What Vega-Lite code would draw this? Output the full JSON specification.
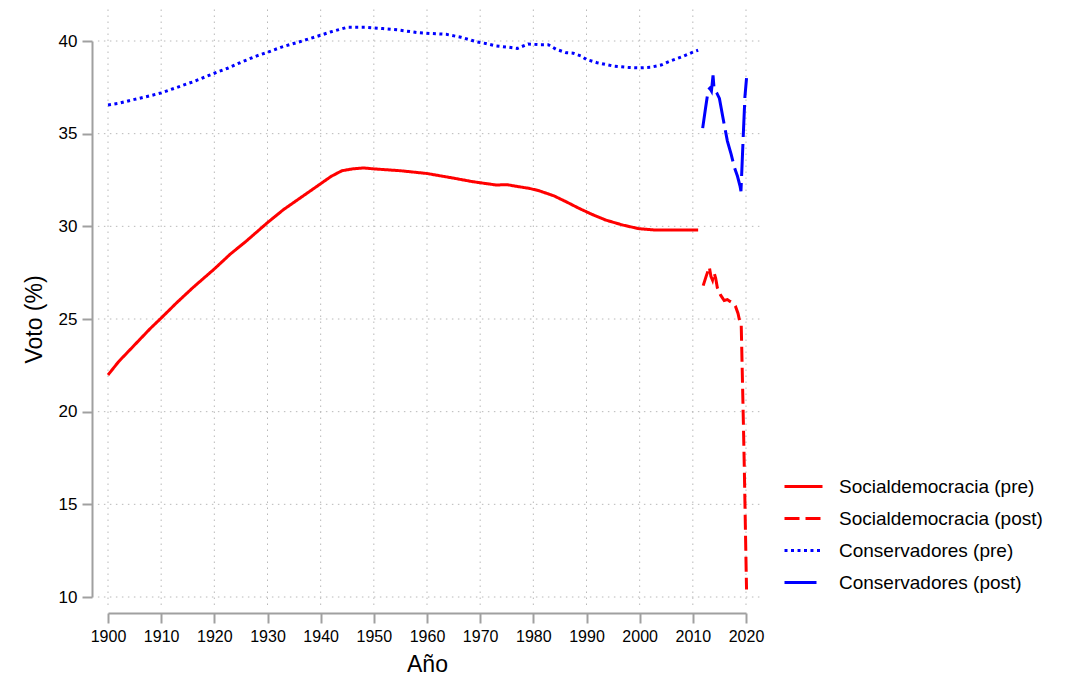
{
  "$schema": "https://vega.github.io/schema/vega-lite/v6.json",
  "width": 638,
  "height": 556,
  "autosize": {"type": "none"},
  "padding": {"left": 108, "top": 41, "right": 335, "bottom": 84},
  "background": "white",
  "config": {
    "view": {"stroke": null},
    "font": "Liberation Sans",
    "legend": {
      "orient": "none",
      "legendX": 675,
      "legendY": 425,
      "symbolType": "stroke",
      "symbolSize": 1444,
      "symbolStrokeWidth": 3,
      "labelFontSize": 19,
      "labelColor": "black",
      "labelOffset": 15,
      "rowPadding": 1,
      "labelLimit": 400
    }
  },
  "datasets": {
    "series": [
      {"year": 1900, "value": 21.98, "series": "Socialdemocracia (pre)"},
      {"year": 1902, "value": 22.7, "series": "Socialdemocracia (pre)"},
      {"year": 1904, "value": 23.3, "series": "Socialdemocracia (pre)"},
      {"year": 1906, "value": 23.9, "series": "Socialdemocracia (pre)"},
      {"year": 1908, "value": 24.5, "series": "Socialdemocracia (pre)"},
      {"year": 1910, "value": 25.05, "series": "Socialdemocracia (pre)"},
      {"year": 1913, "value": 25.9, "series": "Socialdemocracia (pre)"},
      {"year": 1916, "value": 26.7, "series": "Socialdemocracia (pre)"},
      {"year": 1920, "value": 27.7, "series": "Socialdemocracia (pre)"},
      {"year": 1923, "value": 28.5, "series": "Socialdemocracia (pre)"},
      {"year": 1926, "value": 29.2, "series": "Socialdemocracia (pre)"},
      {"year": 1930, "value": 30.2, "series": "Socialdemocracia (pre)"},
      {"year": 1933, "value": 30.9, "series": "Socialdemocracia (pre)"},
      {"year": 1936, "value": 31.5, "series": "Socialdemocracia (pre)"},
      {"year": 1940, "value": 32.3, "series": "Socialdemocracia (pre)"},
      {"year": 1942, "value": 32.7, "series": "Socialdemocracia (pre)"},
      {"year": 1944, "value": 33.0, "series": "Socialdemocracia (pre)"},
      {"year": 1946, "value": 33.1, "series": "Socialdemocracia (pre)"},
      {"year": 1948, "value": 33.15, "series": "Socialdemocracia (pre)"},
      {"year": 1950, "value": 33.1, "series": "Socialdemocracia (pre)"},
      {"year": 1955, "value": 33.0, "series": "Socialdemocracia (pre)"},
      {"year": 1960, "value": 32.85, "series": "Socialdemocracia (pre)"},
      {"year": 1965, "value": 32.6, "series": "Socialdemocracia (pre)"},
      {"year": 1968.6, "value": 32.41, "series": "Socialdemocracia (pre)"},
      {"year": 1973, "value": 32.23, "series": "Socialdemocracia (pre)"},
      {"year": 1975, "value": 32.25, "series": "Socialdemocracia (pre)"},
      {"year": 1977, "value": 32.15, "series": "Socialdemocracia (pre)"},
      {"year": 1979.2, "value": 32.05, "series": "Socialdemocracia (pre)"},
      {"year": 1981.1, "value": 31.92, "series": "Socialdemocracia (pre)"},
      {"year": 1983.9, "value": 31.64, "series": "Socialdemocracia (pre)"},
      {"year": 1986, "value": 31.35, "series": "Socialdemocracia (pre)"},
      {"year": 1988.6, "value": 30.97, "series": "Socialdemocracia (pre)"},
      {"year": 1991, "value": 30.65, "series": "Socialdemocracia (pre)"},
      {"year": 1993.6, "value": 30.34, "series": "Socialdemocracia (pre)"},
      {"year": 1996.8, "value": 30.07, "series": "Socialdemocracia (pre)"},
      {"year": 1999.9, "value": 29.87, "series": "Socialdemocracia (pre)"},
      {"year": 2003, "value": 29.8, "series": "Socialdemocracia (pre)"},
      {"year": 2007, "value": 29.8, "series": "Socialdemocracia (pre)"},
      {"year": 2011, "value": 29.8, "series": "Socialdemocracia (pre)"},
      {"year": 2011.95, "value": 26.8, "series": "Socialdemocracia (post)"},
      {"year": 2012.5, "value": 27.3, "series": "Socialdemocracia (post)"},
      {"year": 2013.1, "value": 27.8, "series": "Socialdemocracia (post)"},
      {"year": 2013.4, "value": 27.3, "series": "Socialdemocracia (post)"},
      {"year": 2013.7, "value": 27.1, "series": "Socialdemocracia (post)"},
      {"year": 2014.0, "value": 27.5, "series": "Socialdemocracia (post)"},
      {"year": 2014.3, "value": 27.2, "series": "Socialdemocracia (post)"},
      {"year": 2014.6, "value": 26.7, "series": "Socialdemocracia (post)"},
      {"year": 2015.2, "value": 26.3, "series": "Socialdemocracia (post)"},
      {"year": 2015.9, "value": 26.0, "series": "Socialdemocracia (post)"},
      {"year": 2016.5, "value": 26.05, "series": "Socialdemocracia (post)"},
      {"year": 2017.0, "value": 25.95, "series": "Socialdemocracia (post)"},
      {"year": 2017.6, "value": 25.85, "series": "Socialdemocracia (post)"},
      {"year": 2018.0, "value": 25.7, "series": "Socialdemocracia (post)"},
      {"year": 2018.5, "value": 25.3, "series": "Socialdemocracia (post)"},
      {"year": 2018.8, "value": 24.9, "series": "Socialdemocracia (post)"},
      {"year": 2019.1, "value": 24.7, "series": "Socialdemocracia (post)"},
      {"year": 2019.3, "value": 22.1, "series": "Socialdemocracia (post)"},
      {"year": 2019.5, "value": 19.5, "series": "Socialdemocracia (post)"},
      {"year": 2019.7, "value": 16.7, "series": "Socialdemocracia (post)"},
      {"year": 2019.9, "value": 13.5, "series": "Socialdemocracia (post)"},
      {"year": 2020.1, "value": 10.4, "series": "Socialdemocracia (post)"},
      {"year": 1900, "value": 36.55, "series": "Conservadores (pre)"},
      {"year": 1902, "value": 36.64, "series": "Conservadores (pre)"},
      {"year": 1905, "value": 36.85, "series": "Conservadores (pre)"},
      {"year": 1908, "value": 37.05, "series": "Conservadores (pre)"},
      {"year": 1910, "value": 37.2, "series": "Conservadores (pre)"},
      {"year": 1913, "value": 37.5, "series": "Conservadores (pre)"},
      {"year": 1916, "value": 37.8, "series": "Conservadores (pre)"},
      {"year": 1920, "value": 38.26, "series": "Conservadores (pre)"},
      {"year": 1922.5, "value": 38.53, "series": "Conservadores (pre)"},
      {"year": 1925, "value": 38.85, "series": "Conservadores (pre)"},
      {"year": 1928, "value": 39.2, "series": "Conservadores (pre)"},
      {"year": 1930, "value": 39.39, "series": "Conservadores (pre)"},
      {"year": 1932.5, "value": 39.66, "series": "Conservadores (pre)"},
      {"year": 1935.7, "value": 39.93, "series": "Conservadores (pre)"},
      {"year": 1939, "value": 40.22, "series": "Conservadores (pre)"},
      {"year": 1942, "value": 40.5, "series": "Conservadores (pre)"},
      {"year": 1945, "value": 40.74, "series": "Conservadores (pre)"},
      {"year": 1948.5, "value": 40.74, "series": "Conservadores (pre)"},
      {"year": 1951.7, "value": 40.67, "series": "Conservadores (pre)"},
      {"year": 1954.5, "value": 40.6, "series": "Conservadores (pre)"},
      {"year": 1958.3, "value": 40.45, "series": "Conservadores (pre)"},
      {"year": 1960.5, "value": 40.41, "series": "Conservadores (pre)"},
      {"year": 1963.6, "value": 40.36, "series": "Conservadores (pre)"},
      {"year": 1966.4, "value": 40.2, "series": "Conservadores (pre)"},
      {"year": 1969.3, "value": 39.96, "series": "Conservadores (pre)"},
      {"year": 1971, "value": 39.87, "series": "Conservadores (pre)"},
      {"year": 1973, "value": 39.73, "series": "Conservadores (pre)"},
      {"year": 1975.5, "value": 39.66, "series": "Conservadores (pre)"},
      {"year": 1977, "value": 39.6, "series": "Conservadores (pre)"},
      {"year": 1979, "value": 39.84, "series": "Conservadores (pre)"},
      {"year": 1981.2, "value": 39.8, "series": "Conservadores (pre)"},
      {"year": 1982.8, "value": 39.8, "series": "Conservadores (pre)"},
      {"year": 1984.3, "value": 39.55, "series": "Conservadores (pre)"},
      {"year": 1986.2, "value": 39.37, "series": "Conservadores (pre)"},
      {"year": 1987.5, "value": 39.34, "series": "Conservadores (pre)"},
      {"year": 1989, "value": 39.19, "series": "Conservadores (pre)"},
      {"year": 1990, "value": 39.0, "series": "Conservadores (pre)"},
      {"year": 1992, "value": 38.83, "series": "Conservadores (pre)"},
      {"year": 1995, "value": 38.65, "series": "Conservadores (pre)"},
      {"year": 1998, "value": 38.57, "series": "Conservadores (pre)"},
      {"year": 2000, "value": 38.55, "series": "Conservadores (pre)"},
      {"year": 2002, "value": 38.58, "series": "Conservadores (pre)"},
      {"year": 2004, "value": 38.7, "series": "Conservadores (pre)"},
      {"year": 2006, "value": 38.95, "series": "Conservadores (pre)"},
      {"year": 2008, "value": 39.15, "series": "Conservadores (pre)"},
      {"year": 2010, "value": 39.4, "series": "Conservadores (pre)"},
      {"year": 2011, "value": 39.5, "series": "Conservadores (pre)"},
      {"year": 2011.85, "value": 35.3, "series": "Conservadores (post)"},
      {"year": 2012.4, "value": 36.4, "series": "Conservadores (post)"},
      {"year": 2012.9, "value": 37.36, "series": "Conservadores (post)"},
      {"year": 2013.2, "value": 37.45, "series": "Conservadores (post)"},
      {"year": 2013.5, "value": 37.3, "series": "Conservadores (post)"},
      {"year": 2013.8, "value": 38.15, "series": "Conservadores (post)"},
      {"year": 2014.0, "value": 37.4, "series": "Conservadores (post)"},
      {"year": 2014.5, "value": 37.2, "series": "Conservadores (post)"},
      {"year": 2015.0, "value": 36.9, "series": "Conservadores (post)"},
      {"year": 2015.7, "value": 35.8, "series": "Conservadores (post)"},
      {"year": 2016.5, "value": 34.6, "series": "Conservadores (post)"},
      {"year": 2017.2, "value": 33.9, "series": "Conservadores (post)"},
      {"year": 2017.8, "value": 33.2, "series": "Conservadores (post)"},
      {"year": 2018.4, "value": 32.7, "series": "Conservadores (post)"},
      {"year": 2018.9, "value": 32.14, "series": "Conservadores (post)"},
      {"year": 2019.05, "value": 31.9, "series": "Conservadores (post)"},
      {"year": 2019.2, "value": 32.9, "series": "Conservadores (post)"},
      {"year": 2019.5, "value": 35.0, "series": "Conservadores (post)"},
      {"year": 2019.8, "value": 37.0, "series": "Conservadores (post)"},
      {"year": 2020.1, "value": 38.0, "series": "Conservadores (post)"}
    ],
    "ygrid": [{"v": 10}, {"v": 15}, {"v": 20}, {"v": 25}, {"v": 30}, {"v": 35}, {"v": 40}],
    "xgrid": [{"v": 1900}, {"v": 1910}, {"v": 1920}, {"v": 1930}, {"v": 1940}, {"v": 1950}, {"v": 1960}, {"v": 1970}, {"v": 1980}, {"v": 1990}, {"v": 2000}, {"v": 2010}, {"v": 2020}]
  },
  "encoding": {
    "x": {
      "type": "quantitative",
      "title": "Año",
      "scale": {"domain": [1900, 2020], "nice": false, "zero": false},
      "axis": {
        "values": [1900, 1910, 1920, 1930, 1940, 1950, 1960, 1970, 1980, 1990, 2000, 2010, 2020],
        "format": "d",
        "grid": false,
        "labelOverlap": false,
        "labelFlush": false,
        "offset": 16,
        "domainColor": "#a0a0a0",
        "domainWidth": 2,
        "tickColor": "#a0a0a0",
        "tickWidth": 2,
        "tickSize": 10,
        "labelFontSize": 16,
        "labelColor": "black",
        "labelPadding": 5,
        "titleFontSize": 23,
        "titleFontWeight": "normal",
        "titleColor": "black",
        "titlePadding": 9
      }
    },
    "y": {
      "type": "quantitative",
      "title": "Voto (%)",
      "scale": {"domain": [10, 40], "nice": false, "zero": false},
      "axis": {
        "values": [10, 15, 20, 25, 30, 35, 40],
        "grid": false,
        "labelOverlap": false,
        "labelFlush": false,
        "offset": 16,
        "domainColor": "#a0a0a0",
        "domainWidth": 2,
        "tickColor": "#a0a0a0",
        "tickWidth": 2,
        "tickSize": 10,
        "labelFontSize": 17,
        "labelColor": "black",
        "labelPadding": 5,
        "titleFontSize": 23,
        "titleFontWeight": "normal",
        "titleColor": "black",
        "titlePadding": 12
      }
    }
  },
  "layer": [
    {
      "data": {"name": "ygrid"},
      "mark": {"type": "rule", "color": "#b8b8b8", "strokeWidth": 1, "strokeDash": [1.5, 4.5]},
      "encoding": {
        "y": {"field": "v"},
        "x": {"datum": 1898.1},
        "x2": {"datum": 2023.2}
      }
    },
    {
      "data": {"name": "xgrid"},
      "mark": {"type": "rule", "color": "#b8b8b8", "strokeWidth": 1, "strokeDash": [1.5, 4.5]},
      "encoding": {
        "x": {"field": "v"},
        "y": {"datum": 41.7},
        "y2": {"datum": 9.45}
      }
    },
    {
      "data": {"name": "series"},
      "mark": {"type": "line", "strokeWidth": 3, "strokeCap": "butt"},
      "encoding": {
        "x": {"field": "year"},
        "y": {"field": "value"},
        "color": {
          "field": "series",
          "type": "nominal",
          "title": null,
          "sort": ["Socialdemocracia (pre)", "Socialdemocracia (post)", "Conservadores (pre)", "Conservadores (post)"],
          "scale": {
            "domain": ["Socialdemocracia (pre)", "Socialdemocracia (post)", "Conservadores (pre)", "Conservadores (post)"],
            "range": ["#ff0000", "#ff0000", "#0000ff", "#0000ff"]
          }
        },
        "strokeDash": {
          "field": "series",
          "type": "nominal",
          "title": null,
          "sort": ["Socialdemocracia (pre)", "Socialdemocracia (post)", "Conservadores (pre)", "Conservadores (post)"],
          "scale": {
            "domain": ["Socialdemocracia (pre)", "Socialdemocracia (post)", "Conservadores (pre)", "Conservadores (post)"],
            "range": [[1, 0], [15, 6], [3, 3.5], [32, 7]]
          }
        }
      }
    },
    {
      "mark": {"type": "rule", "color": "black", "strokeWidth": 2.5, "strokeDash": [5, 3]},
      "encoding": {
        "x": {"datum": 2011},
        "y": {"datum": 41.8},
        "y2": {"datum": 9.1}
      }
    }
  ]
}
